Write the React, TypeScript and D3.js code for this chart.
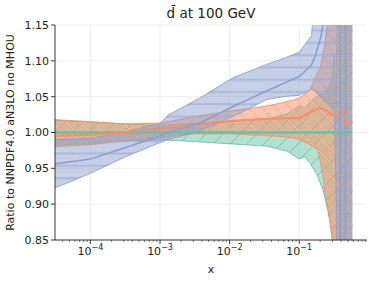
import React from 'react';
import * as d3 from 'd3';

// blue band (ratio of the other fit)
const blueX = [3e-5, 1e-4, 3e-4, 1e-3, 1.3e-3, 3.7e-3, 0.011, 0.034, 0.058, 0.1, 0.15, 0.17, 0.2, 0.22, 0.26, 0.32, 0.34, 0.36, 0.38, 0.4, 0.45, 0.47, 0.58];
const blueLo = [0.922, 0.943, 0.965, 0.986, 0.99, 1.002, 1.022, 1.046, 1.05, 1.052, 1.06, 1.058, 1.05, 1.046, 1.04, 1.03, 0.9, -3, -3, -3, -3, -3, -3];
const blueMid = [0.956, 0.963, 0.978, 0.995, 1.0, 1.013, 1.036, 1.058, 1.068, 1.078, 1.094, 1.107, 1.13, 1.15, 1.3, 1.6, 2, 3, 4, -3, -3, 3, 3];
const blueHi = [0.99, 0.992, 1.0, 1.013, 1.024, 1.048, 1.076, 1.095, 1.103, 1.112, 1.135, 1.2, 1.3, 1.4, 1.6, 2, 3, 4, 4, 4, 4, 4, 4];

// orange band
const orangeX = [3e-5, 1e-4, 3e-4, 1e-3, 3e-3, 0.01, 0.03, 0.06, 0.088, 0.1, 0.13, 0.143, 0.186, 0.2, 0.22, 0.235, 0.25, 0.26, 0.28, 0.296, 0.33, 0.36, 0.4, 0.44, 0.47, 0.54, 0.577];
const orangeLo = [0.98, 0.983, 0.988, 0.993, 0.998, 0.998, 0.996, 0.994, 0.992, 0.99, 0.985, 0.983, 0.976, 0.96, 0.938, 0.915, 0.9, 0.892, 0.87, 0.85, 0.78, 0.7, 0.6, 0.5, 0.5, 0.5, 0.5];
const orangeMid = [0.995, 0.997, 1.0, 1.005, 1.01, 1.016, 1.019, 1.02, 1.02, 1.02, 1.026, 1.029, 1.033, 1.034, 1.033, 1.031, 1.03, 1.029, 1.027, 1.025, 1.022, 1.026, 1.034, 1.028, 1.008, 1.016, 1.013];
const orangeHi = [1.017, 1.015, 1.012, 1.013, 1.022, 1.03, 1.036, 1.042, 1.046, 1.048, 1.056, 1.06, 1.085, 1.09, 1.11, 1.125, 1.15, 1.2, 1.25, 1.3, 1.4, 1.5, 1.5, 1.5, 1.5, 1.5, 1.5];

// green band (reference, ratio 1)
const greenX = [3e-5, 1e-4, 3e-4, 1e-3, 2.4e-3, 0.0112, 0.0344, 0.067, 0.1, 0.12, 0.143, 0.178, 0.219, 0.259, 0.296, 0.31, 0.32, 0.33, 0.34, 0.36, 0.4, 0.5, 0.577];
const greenLo = [0.982, 0.985, 0.988, 0.99, 0.988, 0.984, 0.981, 0.974, 0.963, 0.966, 0.957, 0.942, 0.92, 0.89, 0.86, 0.85, 0.84, 0.83, 0.8, 0.7, 0.6, 0.5, 0.5];
const greenMid = [1, 1, 1, 1, 1, 1, 1, 1, 1, 1, 1, 1, 1, 1, 1, 1, 1, 1, 1, 1, 1, 1, 1];
const greenHi = [1.018, 1.015, 1.012, 1.01, 1.012, 1.016, 1.019, 1.026, 1.037, 1.034, 1.043, 1.05, 1.055, 1.06, 1.075, 1.09, 1.11, 1.06, 1.04, 1.3, 1.4, 1.5, 1.5];

const yTicks = [0.85, 0.9, 0.95, 1.0, 1.05, 1.1, 1.15];
const xMajor = [1e-4, 1e-3, 1e-2, 1e-1];
const xExp = ['−4', '−3', '−2', '−1'];

const W = 374, H = 282;
const m = { left: 55, right: 367, top: 25, bottom: 240 };
const font = 'DejaVu Sans, sans-serif';

const BLUE = '#8da0cb', ORANGE = '#fc8d62', GREEN = '#66c2a5';

function App() {
  const x = d3.scaleLog().domain([3.1e-5, 0.94]).range([m.left, m.right]);
  const y = d3.scaleLinear().domain([0.85, 1.15]).range([m.bottom, m.top]);

  const band = (xs: number[], lo: number[], hi: number[]) =>
    d3.area<number>()
      .x((_, i) => x(xs[i]))
      .y0((_, i) => y(lo[i]))
      .y1((_, i) => y(hi[i]))(xs) || '';
  const edge = (xs: number[], v: number[]) =>
    d3.line<number>().x((_, i) => x(xs[i])).y((_, i) => y(v[i]))(xs) || '';

  const minor = x.ticks().filter(t => Math.abs(Math.log10(t) - Math.round(Math.log10(t))) > 1e-6);

  const series = [
    { xs: greenX, lo: greenLo, mid: greenMid, hi: greenHi, c: GREEN, pat: 'hatchG', w: 2.5 },
    { xs: orangeX, lo: orangeLo, mid: orangeMid, hi: orangeHi, c: ORANGE, pat: 'hatchO', w: 2 },
    { xs: blueX, lo: blueLo, mid: blueMid, hi: blueHi, c: BLUE, pat: 'hatchB', w: 1.6 },
  ];

  return (
    <svg width={W} height={H} style={{ position: 'absolute', left: 0, top: 0, background: '#fff' }} fontFamily={font}>
      <defs>
        <clipPath id="plot">
          <rect x={m.left} y={m.top} width={m.right - m.left} height={m.bottom - m.top} />
        </clipPath>
        <pattern id="hatchB" patternUnits="userSpaceOnUse" width={12} height={12.3}>
          <line x1={0} y1={6} x2={12} y2={6} stroke="#7f93c4" strokeWidth={1.6} />
          <line x1={0} y1={6} x2={12} y2={6} stroke="#d5dcef" strokeWidth={0.5} />
        </pattern>
        <pattern id="hatchO" patternUnits="userSpaceOnUse" width={14} height={14}>
          <line x1={-1} y1={-1} x2={15} y2={15} stroke="#f58560" strokeWidth={1.5} />
          <line x1={-1} y1={-1} x2={15} y2={15} stroke="#fff3ee" strokeWidth={0.7} />
        </pattern>
        <pattern id="hatchG" patternUnits="userSpaceOnUse" width={17} height={17}>
          <line x1={-1} y1={18} x2={18} y2={-1} stroke="#3f9c7d" strokeWidth={0.6} />
        </pattern>
      </defs>

      <g stroke="#ebebeb" strokeWidth={0.8}>
        {yTicks.map(t => <line key={t} x1={m.left} x2={m.right} y1={y(t)} y2={y(t)} />)}
        {xMajor.map(t => <line key={t} x1={x(t)} x2={x(t)} y1={m.top} y2={m.bottom} />)}
      </g>

      <g clipPath="url(#plot)">
        {series.map(s => (
          <g key={s.pat}>
            <path d={band(s.xs, s.lo, s.hi)} fill={s.c} fillOpacity={0.5} />
            <path d={band(s.xs, s.lo, s.hi)} fill={`url(#${s.pat})`} opacity={0.75} />
            <path d={edge(s.xs, s.lo)} fill="none" stroke={s.c} strokeWidth={0.9} />
            <path d={edge(s.xs, s.hi)} fill="none" stroke={s.c} strokeWidth={0.9} />
          </g>
        ))}
        {series.map(s => (
          <path key={s.pat + 'l'} d={edge(s.xs, s.mid)} fill="none" stroke={s.c} strokeWidth={s.w} />
        ))}
      </g>

      <g stroke="#222" strokeWidth={0.9}>
        <line x1={m.left} x2={m.left} y1={m.top} y2={m.bottom} />
        <line x1={m.left} x2={m.right} y1={m.bottom} y2={m.bottom} />
        {yTicks.map(t => <line key={t} x1={m.left - 4} x2={m.left} y1={y(t)} y2={y(t)} />)}
        {xMajor.map(t => <line key={t} x1={x(t)} x2={x(t)} y1={m.bottom} y2={m.bottom + 4} />)}
        {minor.map(t => <line key={t} x1={x(t)} x2={x(t)} y1={m.bottom} y2={m.bottom + 2} strokeWidth={0.6} />)}
      </g>

      <g fontSize={11} fill="#222">
        {yTicks.map(t => (
          <text key={t} x={m.left - 6} y={y(t)} dy="0.35em" textAnchor="end">{t.toFixed(2)}</text>
        ))}
        {xMajor.map((t, i) => (
          <text key={t} x={x(t)} y={255} textAnchor="middle">
            10<tspan dy={-5} fontSize={8}>{xExp[i]}</tspan>
          </text>
        ))}
        <text x={(m.left + m.right) / 2} y={273} textAnchor="middle">x</text>
        <text transform={`translate(14,${(m.top + m.bottom) / 2}) rotate(-90)`} textAnchor="middle">
          Ratio to NNPDF4.0 aN3LO no MHOU
        </text>
      </g>
      <text x={(m.left + m.right) / 2} y={18} textAnchor="middle" fontSize={13.5} fill="#222">d̄ at 100 GeV</text>
    </svg>
  );
}

export default App;
